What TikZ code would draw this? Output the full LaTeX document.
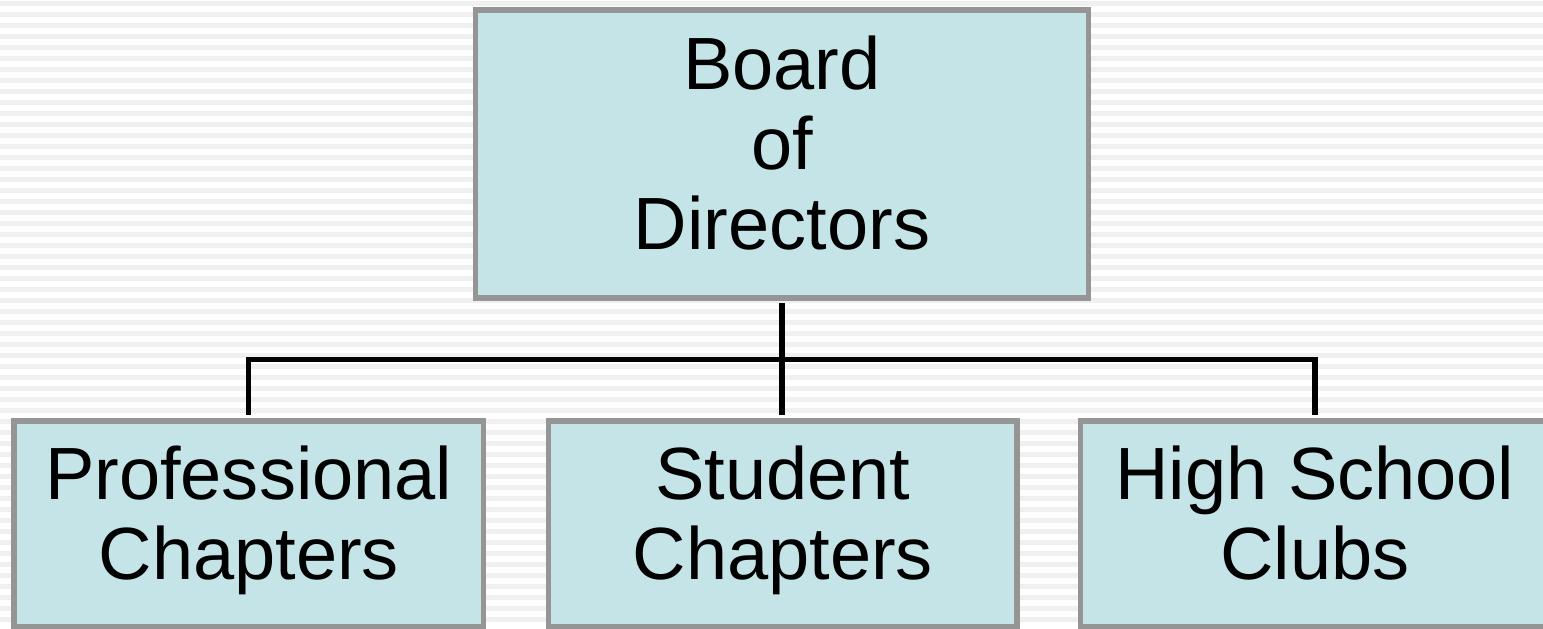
\documentclass[tikz,border=0pt]{standalone}
\usepackage{fontspec}
\setmainfont{Liberation Sans}
\usepackage{xcolor}
\definecolor{boxfill}{HTML}{C5E4E8}
\definecolor{boxline}{HTML}{959595}
\definecolor{stripe}{HTML}{F0F0F0}
\tikzset{
	orgbox/.style={draw=boxline, fill=boxfill, line width=1.7pt, align=center,
		font=\fontsize{21.06pt}{22.76pt}\selectfont, inner sep=0pt},
	link/.style={black, line width=1.55pt, shorten <=0.85pt, shorten >=0.85pt}
}
\begin{document}
\begin{tikzpicture}
	\useasboundingbox (0,0) rectangle (15.43,-6.28);
	\fill[white] (0,0) rectangle (15.43,-6.28);
	\foreach \k in {0,...,56}
	{
		\fill[stripe] (0,-0.01-0.11*\k) rectangle (15.43,-0.06-0.11*\k);
	}
	\node[orgbox, minimum width=6.13cm, minimum height=2.88cm] (board) at (7.82,-1.535)
		{\strut Board\\of\\Directors\strut};
	\node[orgbox, minimum width=4.695cm, minimum height=2.065cm] (prof) at (2.4875,-5.2375)
		{\strut Professional\\Chapters\strut};
	\node[orgbox, minimum width=4.685cm, minimum height=2.065cm] (stud) at (7.8275,-5.2375)
		{\strut Student\\Chapters\strut};
	\node[orgbox, minimum width=4.69cm, minimum height=2.065cm] (high) at (13.15,-5.2375)
		{\strut High School\\Clubs\strut};
	\coordinate (bus) at (7.82,-3.595);
	\draw[link] (board.south) -- (board.south |- stud.north);
	\draw[link] (prof.north) -- (prof.north |- bus) -- (high.north |- bus) -- (high.north);
\end{tikzpicture}
\end{document}
